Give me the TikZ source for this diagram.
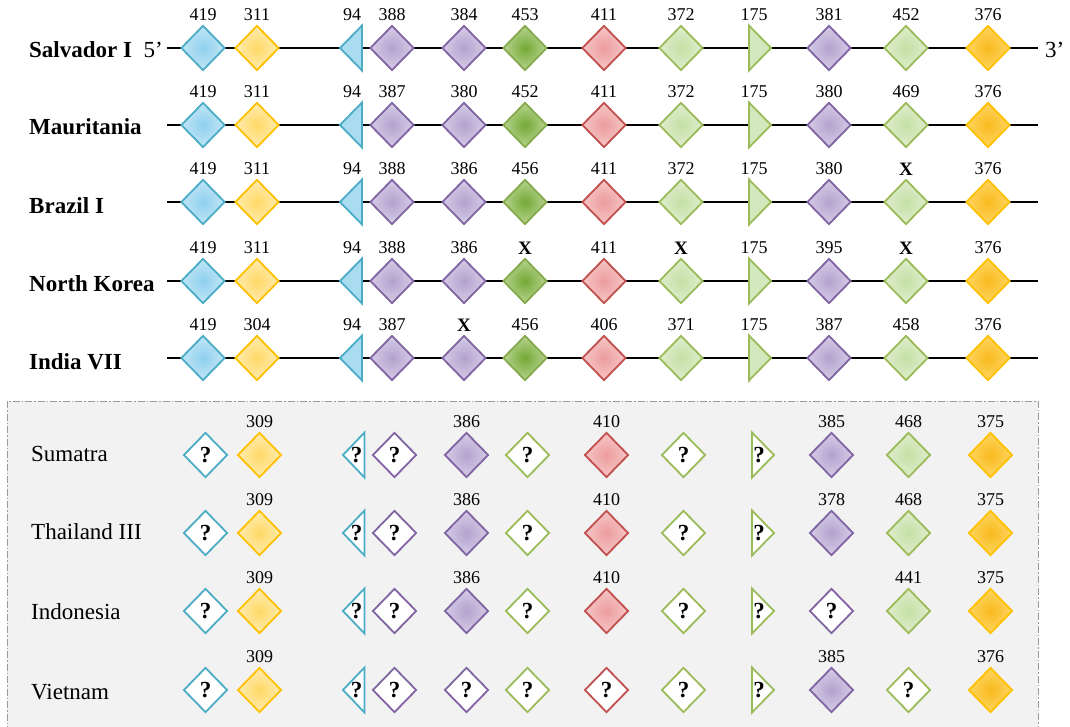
\documentclass[tikz,border=0pt]{standalone}
\usepackage{fontspec}
\setmainfont{Liberation Serif}
\usetikzlibrary{shapes.geometric}
\definecolor{cBlue}{HTML}{4BACC6}
\definecolor{iBlue}{HTML}{8FD0EE}
\definecolor{oBlue}{HTML}{C2E6F6}
\definecolor{tBlue}{HTML}{A9DBF1}
\definecolor{cYel}{HTML}{FFC000}
\definecolor{iYelL}{HTML}{FFD966}
\definecolor{oYelL}{HTML}{FFEBB0}
\definecolor{iYel}{HTML}{F8BA1E}
\definecolor{oYel}{HTML}{FFD560}
\definecolor{cPur}{HTML}{8064A2}
\definecolor{iPur}{HTML}{B3A2CE}
\definecolor{oPur}{HTML}{D6CCE6}
\definecolor{cDG}{HTML}{84AA4C}
\definecolor{iDG}{HTML}{74A935}
\definecolor{oDG}{HTML}{B7D38F}
\definecolor{cLG}{HTML}{9BBB59}
\definecolor{iLG}{HTML}{C5E0A5}
\definecolor{oLG}{HTML}{DFEDCD}
\definecolor{tGreen}{HTML}{D3E8BC}
\definecolor{cRed}{HTML}{C0504D}
\definecolor{iRed}{HTML}{EC9C9D}
\definecolor{oRed}{HTML}{F7C6C6}
\definecolor{boxFill}{HTML}{F2F2F2}
\definecolor{boxLine}{HTML}{9A9A9A}
\newcommand\numfont{\fontsize{18}{20}\selectfont}
\newcommand\lblfont{\fontsize{23}{26}\selectfont}
\newcommand\qfont{\fontsize{23}{26}\selectfont\bfseries}
\newcommand\Xmark{{\fontsize{19}{20}\selectfont\bfseries X}}
\tikzset{
 dnaline/.style={line width=1.5pt, black},
 dia/.style={shape=diamond, minimum width=44pt, minimum height=45pt, inner sep=0pt, line width=1.8pt},
 dB/.style={dia, draw=cBlue, inner color=iBlue, outer color=oBlue},
 yL/.style={dia, draw=cYel, inner color=iYelL, outer color=oYelL},
 dY/.style={dia, draw=cYel, inner color=iYel, outer color=oYel},
 dP/.style={dia, draw=cPur, inner color=iPur, outer color=oPur},
 dG/.style={dia, draw=cDG, inner color=iDG, outer color=oDG},
 dLG/.style={dia, draw=cLG, inner color=iLG, outer color=oLG},
 dR/.style={dia, draw=cRed, inner color=iRed, outer color=oRed},
 qmark/.style={dia, fill=white, font=\qfont},
 qB/.style={qmark, draw=cBlue},
 qP/.style={qmark, draw=cPur},
 qG/.style={qmark, draw=cLG},
 qR/.style={qmark, draw=cRed},
 triB/.style={draw=cBlue, fill=tBlue, line width=1.8pt},
 triG/.style={draw=cLG, fill=tGreen, line width=1.8pt},
 qtriB/.style={draw=cBlue, fill=white, line width=1.8pt},
 qtriG/.style={draw=cLG, fill=white, line width=1.8pt},
 num/.style={font=\numfont, inner sep=0pt},
 qtxt/.style={font=\qfont, inner sep=0pt},
 rowlbl/.style={font=\lblfont\bfseries, anchor=west, inner sep=0pt},
 rowlblB/.style={font=\lblfont, anchor=west, inner sep=0pt},
 endlbl/.style={font=\lblfont, inner sep=0pt},
 graybox/.style={draw=boxLine, fill=boxFill, line width=1pt, dash pattern=on 7pt off 2pt on 1.5pt off 2pt},
}
\begin{document}
\begin{tikzpicture}[x=1pt,y=-1pt]
\useasboundingbox (0,0) rectangle (1070,727);
\clip (0,0) rectangle (1070,727);
\fill[white] (0,0) rectangle (1070,727);
\draw[graybox] (7,401) rectangle (1038,745);

% ---------- top rows ----------
\foreach \y [count=\r] in {48,125,202,281,358} {
  \coordinate (s\r) at (167,\y);
  \coordinate (e\r) at (1038,\y);
  \draw[dnaline] (s\r) -- (e\r);
  \draw[triB] (362,\y-22.5) -- (340,\y) -- (362,\y+22.5) -- cycle;
  \draw[triG] (749,\y-22.5) -- (771,\y) -- (749,\y+22.5) -- cycle;
  \foreach \x/\st [count=\i] in {203/dB,257/yL,392/dP,464/dP,525/dG,604/dR,681/dLG,829/dP,906/dLG,988/dY} {
    \edef\mk{\noexpand\node[\st]}\mk (t\r-\i) at (\x,\y) {};
  }
}
\foreach \labs [count=\r] in {
  {419,311,94,388,384,453,411,372,175,381,452,376},
  {419,311,94,387,380,452,411,372,175,380,469,376},
  {419,311,94,388,386,456,411,372,175,380,\Xmark,376},
  {419,311,94,388,386,\Xmark,411,\Xmark,175,395,\Xmark,376},
  {419,304,94,387,\Xmark,456,406,371,175,387,458,376}} {
  \pgfmathsetmacro\yy{{48,125,202,281,358}[\r-1]}
  \foreach \l [count=\c] in \labs {
    \pgfmathsetmacro\xx{{203,257,352,392,464,525,604,681,754,829,906,988}[\c-1]}
    \node[num] (n\r-\c) at (\xx,\yy-33) {\l};
  }
}
\foreach \nm/\y [count=\r] in {Salvador I/49.5,Mauritania/127,Brazil I/205.5,North Korea/283.5,India VII/362} {
  \node[rowlbl] (name\r) at (29,\y) {\nm};
}
\node[endlbl, anchor=east] (p5) at (163,49.5) {5’};
\node[endlbl, anchor=west] (p3) at (1045,49.5) {3’};

% ---------- bottom rows ----------
\begin{scope}[xshift=2.5pt]
\foreach \y/\entries [count=\r] in {
  455/{203/qB/?/,257/yL//309,392/qP/?/,464/dP//386,525/qG/?/,604/dR//410,681/qG/?/,829/dP//385,906/dLG//468,988/dY//375},
  533/{203/qB/?/,257/yL//309,392/qP/?/,464/dP//386,525/qG/?/,604/dR//410,681/qG/?/,829/dP//378,906/dLG//468,988/dY//375},
  611/{203/qB/?/,257/yL//309,392/qP/?/,464/dP//386,525/qG/?/,604/dR//410,681/qG/?/,829/qP/?/,906/dLG//441,988/dY//375},
  690/{203/qB/?/,257/yL//309,392/qP/?/,464/qP/?/,525/qG/?/,604/qR/?/,681/qG/?/,829/dP//385,906/qG/?/,988/dY//376}} {
  \draw[qtriB] (362,\y-22.5) -- (340.5,\y) -- (362,\y+22.5) -- cycle;
  \node[qtxt] (qa\r) at (354,\y) {?};
  \draw[qtriG] (749.5,\y-22.5) -- (771.5,\y) -- (749.5,\y+22.5) -- cycle;
  \node[qtxt] (qb\r) at (756.5,\y) {?};
  \foreach \x/\st/\tx/\lab [count=\i] in \entries {
    \edef\mk{\noexpand\node[\st]}\mk (b\r-\i) at (\x,\y) {\tx};
    \ifx\lab\empty\else
      \node[num] (bl\r-\i) at (\x,\y-33) {\lab};
    \fi
  }
}
\end{scope}
\foreach \nm/\y [count=\r] in {Sumatra/454,Thailand III/532,Indonesia/611.5,Vietnam/692.5} {
  \node[rowlblB] (bname\r) at (31,\y) {\nm};
}
\end{tikzpicture}
\end{document}
